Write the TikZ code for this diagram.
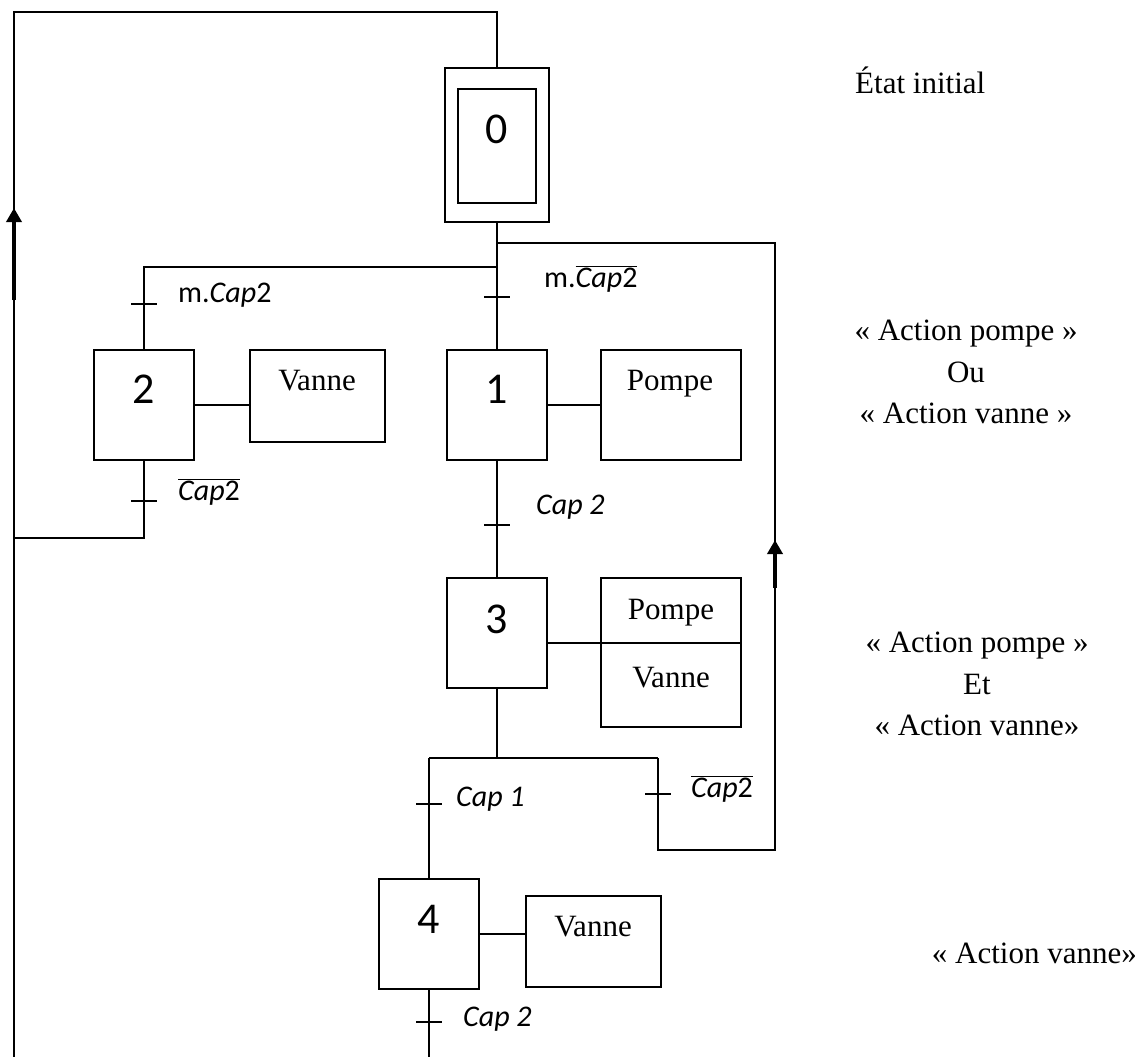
\documentclass[tikz,border=0pt]{standalone}
\usepackage{fix-cm}
\usepackage{fontspec}
\setmainfont{Liberation Serif}
\newfontfamily\calfont{Carlito}
\usetikzlibrary{arrows.meta,positioning}
\tikzset{
  stepbox/.style={draw,line width=1.8pt,inner sep=0pt,minimum width=100pt,minimum height=110pt},
  actbox/.style={draw,line width=1.8pt,inner sep=0pt},
  stepnum/.style={anchor=base,inner sep=0pt,font=\calfont\fontsize{44}{44}\selectfont},
  acttxt/.style={anchor=base,inner sep=0pt,font=\fontsize{31}{31}\selectfont},
  trans/.style={anchor=base west,inner sep=0pt,font=\calfont\fontsize{30}{30}\selectfont},
  note/.style={align=center,inner sep=0pt,font=\fontsize{31}{41.5}\selectfont},
  flow/.style={line width=1.8pt},
  upflow/.style={line width=4pt,-{Triangle[length=14pt,width=15pt]}},
}
\newcommand\capbar{$\overline{\hbox{{\itshape Cap}2}}$}
\begin{document}
\begin{tikzpicture}[x=1pt,y=-1pt]
\useasboundingbox (0,0) rectangle (1143,1057);

% steps
\node[stepbox,minimum width=104pt,minimum height=154pt] (s0) at (497,145) {};
\node[stepbox,minimum width=78pt,minimum height=114pt] (s0in) at (497,146) {};
\node[stepnum] (n0) at (497,143) {0};
\node[stepbox] (s2) at (144,405) {};
\node[stepnum] (n2) at (144,403) {2};
\node[stepbox] (s1) at (497,405) {};
\node[stepnum] (n1) at (497,403) {1};
\node[stepbox] (s3) at (497,633) {};
\node[stepnum] (n3) at (497,633) {3};
\node[stepbox] (s4) at (429,934) {};
\node[stepnum] (n4) at (429,933) {4};

% actions
\node[actbox,minimum width=135pt,minimum height=92pt] (a2) at (317.5,396) {};
\node[acttxt] (v2) at (317,390) {Vanne};
\node[actbox,minimum width=140pt,minimum height=110pt] (a1) at (671,405) {};
\node[acttxt] (p1) at (670,390) {Pompe};
\node[actbox,minimum width=140pt,minimum height=149pt] (a3) at (671,652.5) {};
\node[acttxt] (p3) at (671,619) {Pompe};
\node[acttxt] (v3) at (671,687) {Vanne};
\node[actbox,minimum width=135pt,minimum height=91pt] (a4) at (593.5,941.5) {};
\node[acttxt] (v4) at (593,936) {Vanne};
\coordinate (d3) at (0,643);
\draw[flow] (a3.west |- d3) -- (a3.east |- d3);

\draw[flow] (s2.east) -- (s2.east -| a2.west);
\draw[flow] (s1.east) -- (a1.west);
\draw[flow] (s3.east |- d3) -- (a3.west |- d3);
\draw[flow] (s4.east) -- (s4.east -| a4.west);

% links
\coordinate (tl) at (14,12);
\coordinate (bl) at (14,1057);
\coordinate (tr) at (497,12);
\coordinate (ou) at (497,267);
\coordinate (ourt) at (497,243);
\coordinate (rt) at (775,243);
\coordinate (rb) at (775,850);
\coordinate (r2) at (14,538);
\coordinate (j3) at (497,758);
\coordinate (jl) at (429,758);
\coordinate (jr) at (658,758);
\coordinate (b4) at (429,1057);
\draw[flow] (bl) -- (tl) -- (tr) -- (s0.north);
\draw[flow] (s0.south) -- (s1.north);
\draw[flow] (ou) -| (s2.north);
\draw[flow] (s2.south) |- (r2);
\draw[flow] (s1.south) -- (s3.north);
\draw[flow] (s3.south) -- (j3);
\draw[flow] (jl) -- (jr);
\draw[flow] (jl) -- (s4.north);
\draw[flow] (jr) |- (rb) -- (rt) -- (ourt);
\draw[flow] (s4.south) -- (b4);
\coordinate (al0) at (14,300);
\coordinate (al1) at (14,208);
\coordinate (ar0) at (775,588);
\coordinate (ar1) at (775,540);
\draw[upflow] (al0) -- (al1);
\draw[upflow] (ar0) -- (ar1);

% transitions
\foreach \x/\y in {144/304,497/297,144/501,497/525,429/804,658/794,429/1022}
  \draw[flow] (\x-13,\y) -- (\x+13,\y);
\node[trans] (c02) at (178,302) {m.{\itshape Cap}2};
\node[trans] (c01) at (544,287) {m.\capbar};
\node[trans] (c20) at (178,500) {\capbar};
\node[trans] (c13) at (536,514) {\itshape Cap 2};
\node[trans] (c34) at (456,806) {\itshape Cap 1};
\node[trans] (c31) at (691,797) {\capbar};
\node[trans] (c40) at (463,1026) {\itshape Cap 2};

% comments
\node[anchor=base west,inner sep=0pt,font=\fontsize{31}{31}\selectfont] (e0) at (855,93) {État initial};
\node[note] (e1) at (966,372) {« Action pompe »\\Ou\\« Action vanne »};
\node[note] (e3) at (977,684) {« Action pompe »\\Et\\« Action vanne»};
\node[anchor=base east,inner sep=0pt,font=\fontsize{31}{31}\selectfont] (e4) at (1137,963) {« Action vanne»};
\end{tikzpicture}
\end{document}
